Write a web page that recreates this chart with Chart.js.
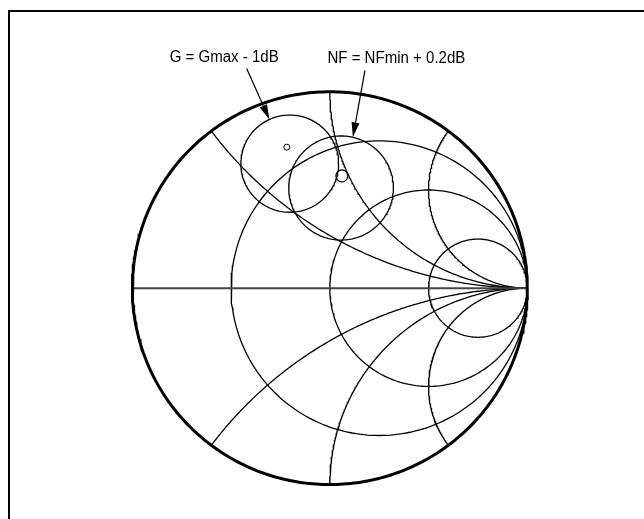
<!DOCTYPE html>
<html>
<head>
<meta charset="utf-8">
<script src="https://cdn.jsdelivr.net/npm/chart.js@4.4.0/dist/chart.umd.min.js"></script>
<style>
  html, body { margin: 0; padding: 0; background: #fff; }
  #wrap { position: relative; width: 644px; height: 519px; overflow: hidden; }
  #frame { position: absolute; left: 8px; top: 10px; width: 700px; height: 600px;
           border-left: 2px solid #000; border-top: 2px solid #000; }
  canvas { position: absolute; left: 0; top: 0; }
</style>
</head>
<body>
<div id="wrap">
  <div id="frame"></div>
  <canvas id="myChart" width="644" height="519"></canvas>
</div>
<script>
// smith chart grid, normalized impedance
var resistances = [1/3, 1, 3];
var reactances = [0.5, 1, 2, -0.5, -1, -2];

// design circles in reflection coefficient units: [centre re, centre im, radius]
var gainCircle = [-0.203, 0.634, 0.2475];
var noiseCircle = [0.057, 0.510, 0.265];
var gainMaxPoint = [-0.218, 0.718];
var noiseMinPoint = [0.061, 0.572];

var labels = ['G = Gmax - 1dB', 'NF = NFmin + 0.2dB'];

function arc(cx, cy, r, a0, a1, n) {
  var pts = [];
  for (var i = 0; i <= n; i++) {
    var a = a0 + (a1 - a0) * i / n;
    pts.push({x: cx + r * Math.cos(a), y: cy + r * Math.sin(a)});
  }
  return pts;
}

function line(pts, width, color) {
  return {
    data: pts, showLine: true, pointRadius: 0, borderWidth: width,
    borderColor: color || '#000', backgroundColor: 'transparent', tension: 0
  };
}

var datasets = [];

// outer circle + real axis
datasets.push(line(arc(0, 0, 1, 0, 2 * Math.PI, 360), 3));
datasets.push(line([{x: -1, y: 0}, {x: 1, y: 0}], 2, '#444'));

// constant resistance circles
resistances.forEach(function(r) {
  datasets.push(line(arc(r / (1 + r), 0, 1 / (1 + r), 0, 2 * Math.PI, 240), 1.3));
});

// constant reactance arcs (only the part inside |G| = 1)
reactances.forEach(function(x) {
  var ax = Math.abs(x);
  var ex = (ax * ax - 1) / (ax * ax + 1), ey = 2 * ax / (ax * ax + 1);
  var end = Math.atan2(ey - 1 / ax, ex - 1);
  if (end > -Math.PI / 2) end -= 2 * Math.PI;
  var pts = arc(1, 1 / ax, 1 / ax, -Math.PI / 2, end, 200);
  if (x < 0) pts = pts.map(function(p) { return {x: p.x, y: -p.y}; });
  datasets.push(line(pts, 1.3));
});

// gain and noise circles
[gainCircle, noiseCircle].forEach(function(c) {
  datasets.push(line(arc(c[0], c[1], c[2], 0, 2 * Math.PI, 200), 1.3));
});

// optimum points
datasets.push({
  data: [{x: gainMaxPoint[0], y: gainMaxPoint[1]}], pointRadius: 3,
  pointBorderWidth: 1, borderColor: '#000', backgroundColor: 'transparent'
});
datasets.push({
  data: [{x: noiseMinPoint[0], y: noiseMinPoint[1]}], pointRadius: 6,
  pointBorderWidth: 1.2, borderColor: '#000', backgroundColor: 'transparent'
});

// callouts: label centre, arrow tail, and where on the circle the arrow lands (deg)
var notes = [
  {text: labels[0], at: [-0.535, 1.175], tail: [-0.421, 1.119], circle: gainCircle, angle: 114.6},
  {text: labels[1], at: [0.337, 1.17], tail: [0.178, 1.109], circle: noiseCircle, angle: 77}
];

var callouts = {
  id: 'callouts',
  afterDatasetsDraw: function(chart) {
    var ctx = chart.ctx, sx = chart.scales.x, sy = chart.scales.y;
    ctx.save();
    notes.forEach(function(n) {
      var tx = sx.getPixelForValue(n.at[0]), ty = sy.getPixelForValue(n.at[1]);
      ctx.save();
      ctx.translate(tx, ty);
      ctx.scale(0.94, 1);
      ctx.font = '16px "Liberation Sans", Arial, sans-serif';
      ctx.fillStyle = '#000';
      ctx.textAlign = 'center';
      ctx.textBaseline = 'middle';
      ctx.fillText(n.text, 0, 0);
      ctx.restore();

      var a = n.angle * Math.PI / 180;
      var x0 = sx.getPixelForValue(n.tail[0]), y0 = sy.getPixelForValue(n.tail[1]);
      var x1 = sx.getPixelForValue(n.circle[0] + n.circle[2] * Math.cos(a));
      var y1 = sy.getPixelForValue(n.circle[1] + n.circle[2] * Math.sin(a));
      var d = Math.atan2(y1 - y0, x1 - x0), len = 15, hw = 4;
      ctx.strokeStyle = '#000';
      ctx.lineWidth = 1.2;
      ctx.beginPath();
      ctx.moveTo(x0, y0);
      ctx.lineTo(x1 - len * Math.cos(d), y1 - len * Math.sin(d));
      ctx.stroke();
      ctx.beginPath();
      ctx.moveTo(x1, y1);
      ctx.lineTo(x1 - len * Math.cos(d) - hw * Math.sin(d), y1 - len * Math.sin(d) + hw * Math.cos(d));
      ctx.lineTo(x1 - len * Math.cos(d) + hw * Math.sin(d), y1 - len * Math.sin(d) - hw * Math.cos(d));
      ctx.closePath();
      ctx.fill();
    });
    ctx.restore();
  }
};

// 202 px per unit, origin at (330, 289) on a 644x519 canvas
var unit = 202;
var ctx = document.getElementById('myChart').getContext('2d');
var myChart = new Chart(ctx, {
  type: 'scatter',
  data: { datasets: datasets },
  options: {
    responsive: false,
    animation: false,
    events: [],
    layout: { padding: 0 },
    plugins: { legend: { display: false }, tooltip: { enabled: false } },
    scales: {
      x: { type: 'linear', display: false, min: -330 / unit, max: (644 - 330) / unit },
      y: { type: 'linear', display: false, min: -(519 - 289) / unit, max: 289 / unit }
    }
  },
  plugins: [callouts]
});
</script>
</body>
</html>
